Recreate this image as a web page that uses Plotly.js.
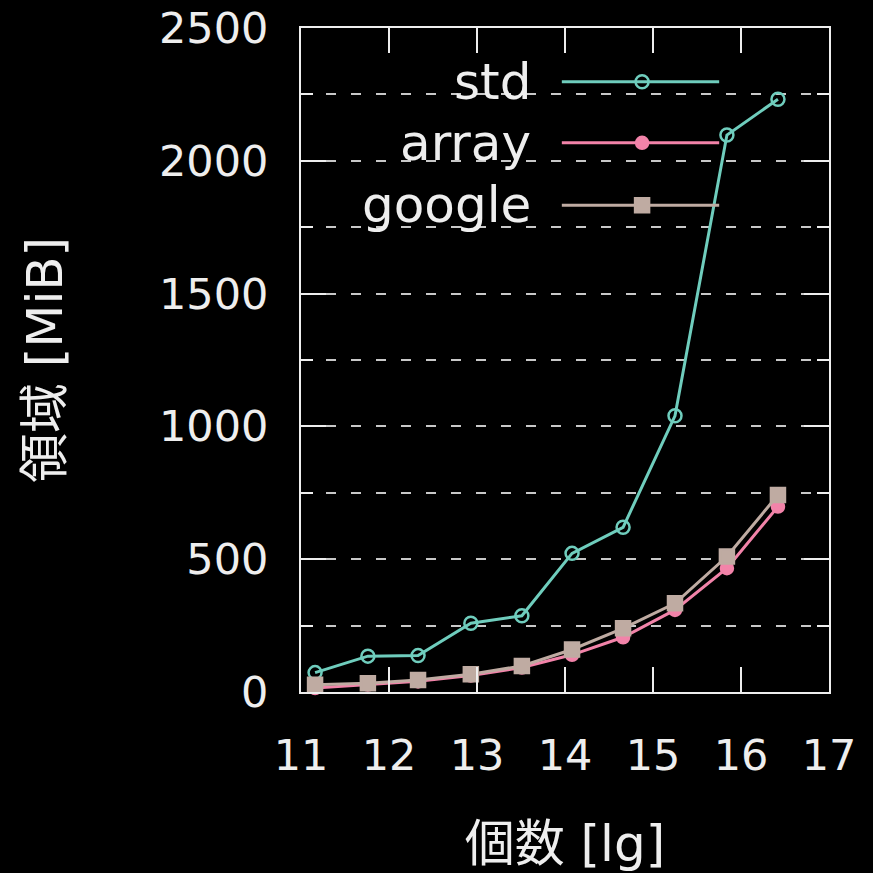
<!DOCTYPE html>
<html>
<head>
<meta charset="utf-8">
<script src="https://cdn.plot.ly/plotly-3.0.1.min.js"></script>
<style>html,body{margin:0;padding:0;background:#000;}#chart{width:873px;height:873px;}</style>
</head>
<body>
<div id="chart"></div>
<script>
// ---- data ----
const xLg = [11.16, 11.76, 12.33, 12.93, 13.51, 14.08, 14.66, 15.25, 15.84, 16.42];
const stdMiB = [73, 135, 137, 259, 287, 522, 620, 1040, 2097, 2232];
const arrayMiB = [15, 28, 40, 62, 92, 140, 206, 309, 466, 698];
const googleMiB = [27, 33, 45, 67, 98, 160, 240, 334, 510, 742];
const seriesNames = ["std", "array", "google"];
const xTickVals = [11, 12, 13, 14, 15, 16, 17];
const yTickVals = [0, 500, 1000, 1500, 2000, 2500];

const colors = ["#6fcdbd", "#f283a9", "#bfaba2"];
const symbols = ["circle-open", "circle", "square"];
const msize = [13, 12, 14];
const seriesY = [stdMiB, arrayMiB, googleMiB];
const FONT = "DejaVu Sans, Noto Sans CJK JP, sans-serif";
const FG = "#eeeeee";
const GRID = "#c8c8c8";

const traces = seriesY.map((ys, i) => ({
  type: "scatter", mode: "lines+markers", name: seriesNames[i],
  x: xLg, y: ys, showlegend: false, cliponaxis: false,
  line: {color: colors[i], width: 3},
  marker: {symbol: symbols[i], size: msize[i], color: colors[i], line: {color: colors[i], width: 2.5}}
}));

// custom gnuplot-style key (text on left, sample on right)
const keyRowsY = [0.919, 0.827, 0.733];
const keyLineX = [0.494, 0.792];
const keyMarkX = 0.646;
const annotations = [];
seriesNames.forEach((n, i) => {
  traces.push({
    type: "scatter", mode: "lines", x: keyLineX, y: [keyRowsY[i], keyRowsY[i]],
    xaxis: "x2", yaxis: "y2", showlegend: false, hoverinfo: "skip",
    line: {color: colors[i], width: 3}
  });
  traces.push({
    type: "scatter", mode: "markers", x: [keyMarkX], y: [keyRowsY[i]],
    xaxis: "x2", yaxis: "y2", showlegend: false, hoverinfo: "skip",
    marker: {symbol: symbols[i], size: msize[i], color: colors[i], line: {color: colors[i], width: 2.5}}
  });
  annotations.push({
    xref: "paper", yref: "paper", x: 0.44, y: keyRowsY[i], xanchor: "right", yanchor: "middle",
    text: n, showarrow: false, font: {family: FONT, size: 50, color: FG}
  });
});

const layout = {
  width: 873, height: 873,
  paper_bgcolor: "#000", plot_bgcolor: "#000",
  margin: {l: 301, r: 44, t: 28, b: 181},
  font: {family: FONT, color: FG, size: 43},
  showlegend: false,
  xaxis: {
    range: [11, 17], tickvals: xTickVals, ticktext: xTickVals.map(String),
    ticks: "inside", ticklen: 25, tickwidth: 2, tickcolor: FG,
    showline: true, linecolor: FG, linewidth: 2, mirror: "ticks",
    showgrid: false, zeroline: false,
    tickfont: {family: FONT, size: 43, color: FG}, ticklabelstandoff: 24,
    title: {text: "個数 [lg]", font: {family: FONT, size: 50, color: FG}, standoff: 48}
  },
  yaxis: {
    range: [0, 2500], tickvals: yTickVals, ticktext: yTickVals.map(String),
    ticks: "inside", ticklen: 25, tickwidth: 2, tickcolor: FG,
    showline: true, linecolor: FG, linewidth: 2, mirror: "ticks",
    showgrid: true, gridcolor: GRID, gridwidth: 2, griddash: "10px,15px",
    zeroline: false,
    minor: {dtick: 250, ticks: "inside", ticklen: 12, tickwidth: 2, tickcolor: FG,
            showgrid: true, gridcolor: GRID, gridwidth: 2, griddash: "10px,15px"},
    tickfont: {family: FONT, size: 43, color: FG}, ticklabelstandoff: 22,
    title: {text: "領域 [MiB]", font: {family: FONT, size: 50, color: FG}, standoff: 80}
  },
  xaxis2: {overlaying: "x", range: [0, 1], visible: false, fixedrange: true},
  yaxis2: {overlaying: "y", range: [0, 1], visible: false, fixedrange: true},
  shapes: [{
    type: "rect", xref: "paper", yref: "paper", x0: 0.104, x1: 0.850, y0: 0.681, y1: 0.967,
    fillcolor: "#000", line: {width: 0}, layer: "between"
  }],
  annotations: annotations
};

Plotly.newPlot("chart", traces, layout, {displayModeBar: false, staticPlot: true});
</script>
</body>
</html>
